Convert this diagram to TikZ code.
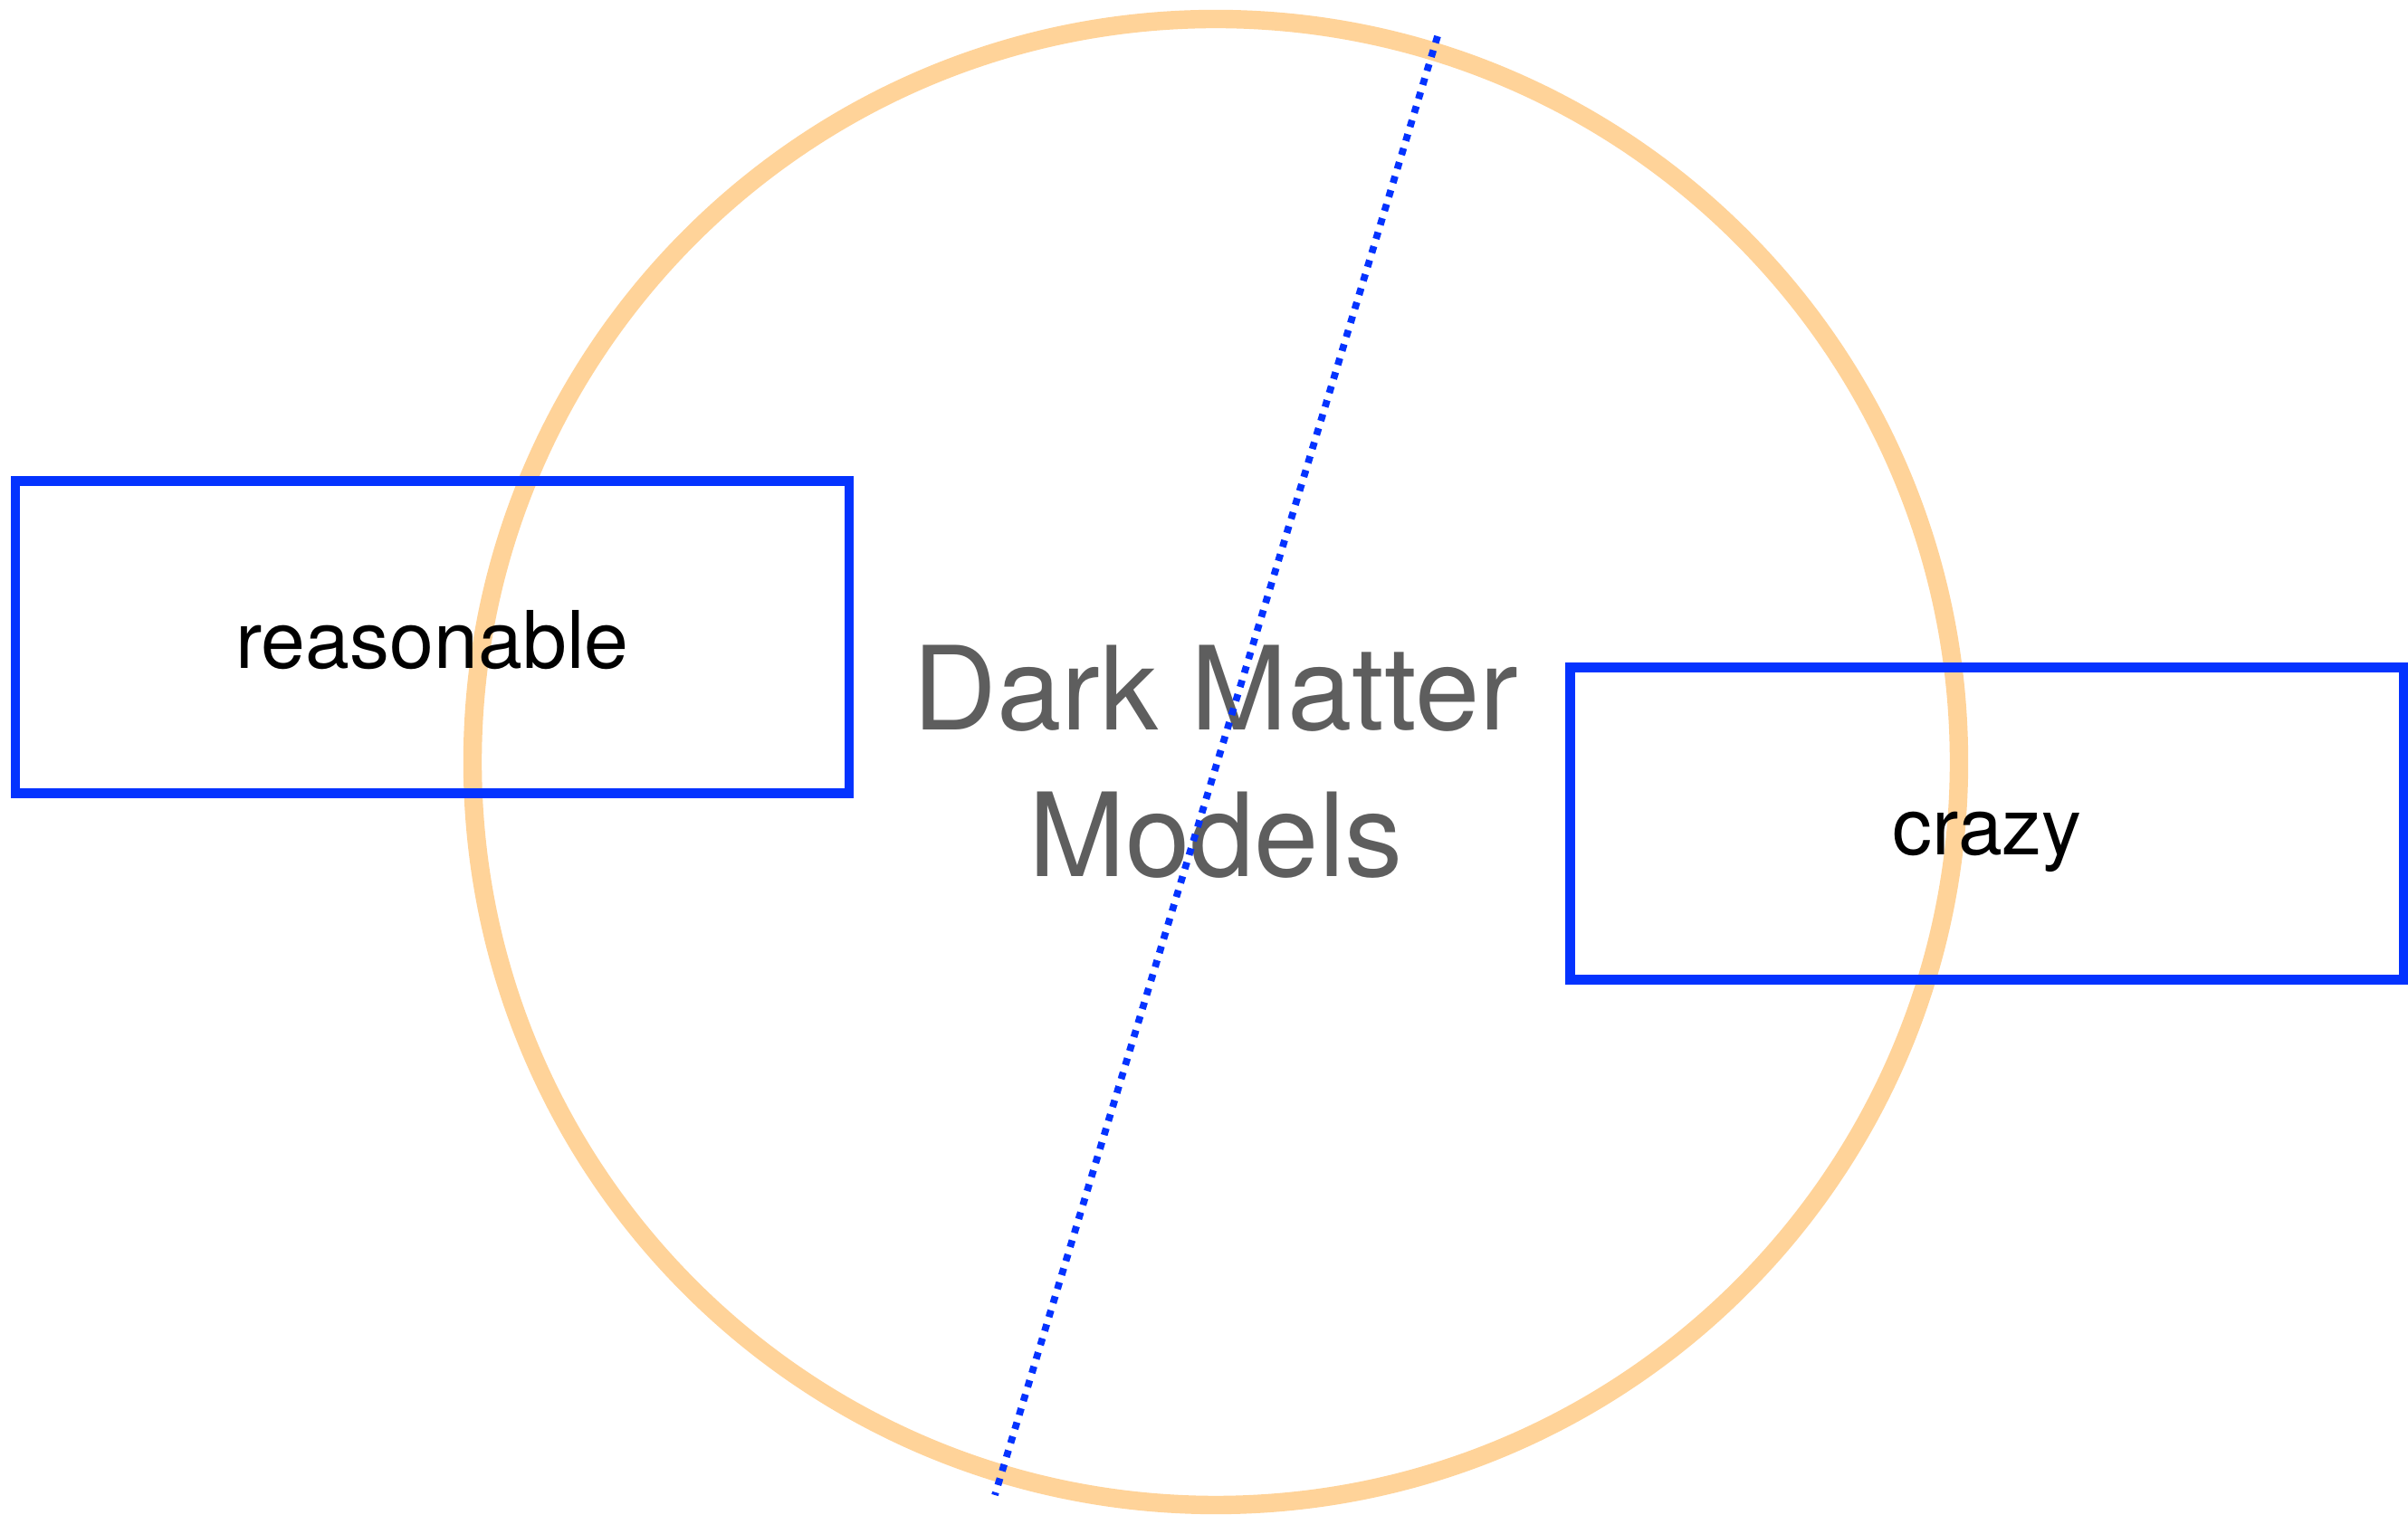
\documentclass[tikz,border=0pt]{standalone}
\usepackage{fontspec}
\setmainfont{TeX Gyre Heros}
\usetikzlibrary{positioning}
\definecolor{ringorange}{RGB}{255,211,153}
\definecolor{boxblue}{RGB}{4,51,255}
\definecolor{labelgray}{RGB}{94,94,94}

\begin{document}
\begin{tikzpicture}[
    ring/.style={draw=ringorange,circle,line width=5.8pt,minimum size=16.42cm,inner sep=0pt,font=\fontsize{36.5}{46}\selectfont,text=labelgray,align=center},
    catbox/.style={draw=boxblue,line width=2.9pt,minimum width=9.21cm,minimum height=3.45cm,inner sep=0pt,text height=24pt,text depth=4.2pt,font=\fontsize{25}{30}\selectfont},
    divider/.style={boxblue,line width=2.2pt,dash pattern=on 2.2pt off 2.4pt},
]
\useasboundingbox (0,0) rectangle (26.6,16.74);

% The model space
\node[ring] (models) at (13.43,8.32) {Dark Matter\\Models};

% The two categories
\node[catbox] (reasonable) at (4.775,9.70) {reasonable};
\node[catbox] (crazy)      at (21.95,7.64) {crazy};

% Dotted cut through the circle
\coordinate (cuttop) at (15.88,16.34);
\coordinate (cutbot) at (10.99,0.22);
\draw[divider] (cuttop) -- (cutbot);
\end{tikzpicture}
\end{document}
